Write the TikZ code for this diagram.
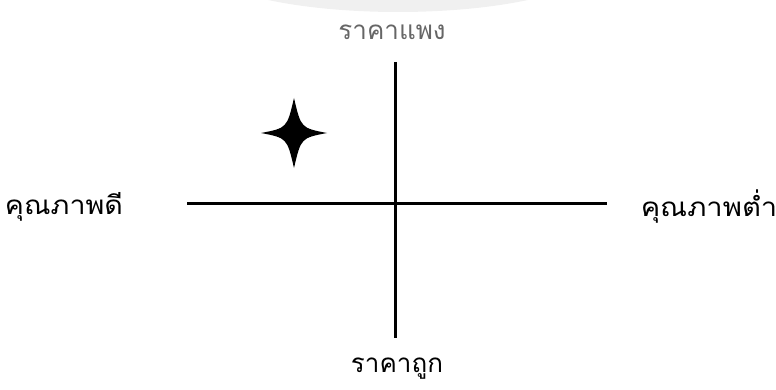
\documentclass[tikz,border=0pt]{standalone}
\usepackage{fontspec}
\usetikzlibrary{calc}
\newfontfamily\thaifont[Script=Thai]{Loma}
\begin{document}
\begin{tikzpicture}[x=1pt,y=1pt,
  axis/.style={line width=3pt,black},
  lbl/.style={font=\thaifont\fontsize{26}{30}\selectfont,inner sep=0pt},
  starshape/.style={fill=black}]
\useasboundingbox (0,0) rectangle (776,389);
% faint watermark arc
\begin{scope}
\clip (0,377) rectangle (776,389);
\fill[black!6] (398,430) ellipse (205 and 53);
\end{scope}
% axes
\coordinate (vt) at (395,327);
\coordinate (vb) at (395,51);
\coordinate (hl) at (187,186);
\coordinate (hr) at (607,186);
\draw[axis] (vt) -- (vb);
\draw[axis] (hl) -- (hr);
% labels
\node[lbl,text=black!60] (top) at (392,357) {ราคาแพง};
\node[lbl] (bot) at (397,20) {ราคาถูก};
\node[lbl,xscale=1.1] (left) at (64,182) {คุณภาพดี};
\node[lbl,xscale=1.12] (right) at (709,182) {คุณภาพต่ำ};
% star
\coordinate (s) at (294,256);
\fill[starshape] ($(s)+(-33,0)$)
  .. controls ($(s)+(-7,5)$) .. ($(s)+(0,35)$)
  .. controls ($(s)+(7,5)$) .. ($(s)+(33,0)$)
  .. controls ($(s)+(7,-5)$) .. ($(s)+(0,-35)$)
  .. controls ($(s)+(-7,-5)$) .. cycle;
\end{tikzpicture}
\end{document}
